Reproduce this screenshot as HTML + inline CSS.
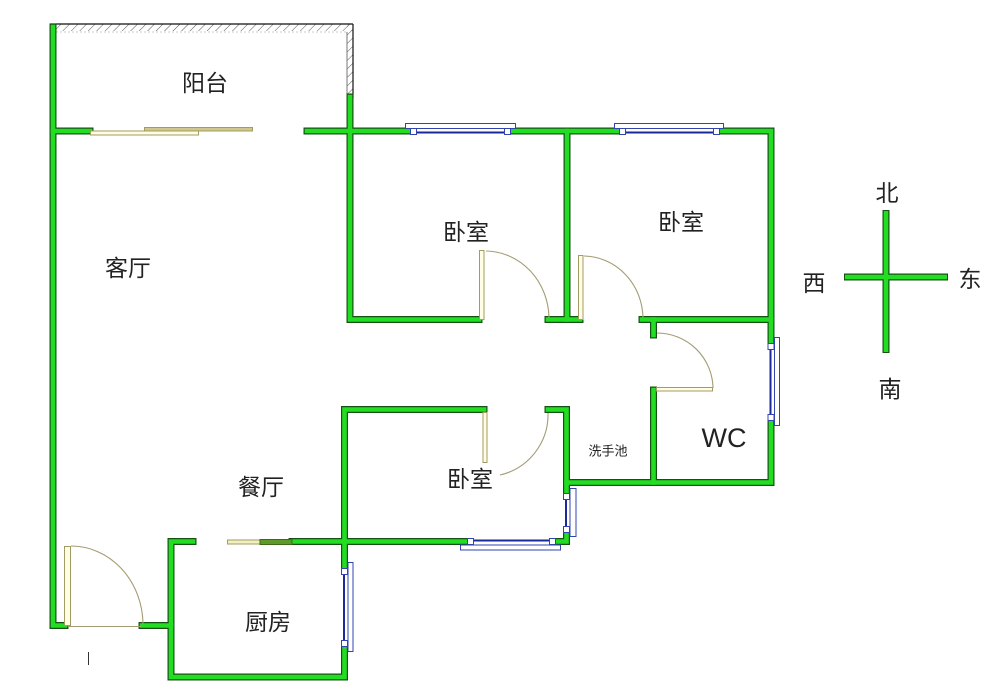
<!DOCTYPE html>
<html><head><meta charset="utf-8"><style>
html,body{margin:0;padding:0;background:#fff;}
svg{display:block;}
text{font-family:"Liberation Sans","Noto Sans CJK SC",sans-serif;fill:#222;}
</style></head><body>
<svg width="1000" height="696" viewBox="0 0 1000 696" xmlns="http://www.w3.org/2000/svg">
<defs>
<pattern id="hatch" width="6" height="6" patternUnits="userSpaceOnUse" patternTransform="rotate(45)">
<line x1="0" y1="0" x2="0" y2="6" stroke="#555" stroke-width="1"/>
</pattern>
</defs>
<rect width="1000" height="696" fill="#fff"/>

<!-- balcony hatch -->
<rect x="50" y="24" width="303" height="7" fill="url(#hatch)"/>
<rect x="347" y="24" width="6" height="74" fill="url(#hatch)"/>
<line x1="50" y1="24" x2="353" y2="24" stroke="#111" stroke-width="1.2"/>
<line x1="353" y1="24" x2="353" y2="98" stroke="#111" stroke-width="1.2"/>
<line x1="56" y1="32" x2="347" y2="32" stroke="#ccc" stroke-width="1" stroke-dasharray="2,2"/>
<line x1="347" y1="32" x2="347" y2="98" stroke="#777" stroke-width="1"/>

<!-- walls -->
<g fill="none" stroke-linecap="square" stroke-linejoin="miter">
<g stroke="#145214" stroke-width="7">
<path d="M53,27 V625.5 H65"/>
<path d="M142,625.5 H171"/>
<path d="M193,541.5 H171 V677 H344.5 V409.5 H484"/>
<path d="M292,541.5 H566.5 V409.5 H548"/>
<path d="M566.5,482.5 H771 V131 H307"/>
<path d="M53,131 H90"/>
<path d="M350,97 V319.5 H479"/>
<path d="M567,131 V319.5"/>
<path d="M548,319.5 H580"/>
<path d="M642,319.5 H771"/>
<path d="M653.5,319.5 V335"/>
<path d="M653.5,390 V482.5"/>
</g>
<g stroke="#22dd22" stroke-width="4.6">
<path d="M53,27 V625.5 H65"/>
<path d="M142,625.5 H171"/>
<path d="M193,541.5 H171 V677 H344.5 V409.5 H484"/>
<path d="M292,541.5 H566.5 V409.5 H548"/>
<path d="M566.5,482.5 H771 V131 H307"/>
<path d="M53,131 H90"/>
<path d="M350,97 V319.5 H479"/>
<path d="M567,131 V319.5"/>
<path d="M548,319.5 H580"/>
<path d="M642,319.5 H771"/>
<path d="M653.5,319.5 V335"/>
<path d="M653.5,390 V482.5"/>
</g>
</g>

<!-- windows -->
<g stroke="#3344b0" stroke-width="1">
<!-- A top bedroom1 -->
<rect x="412" y="127.5" width="98" height="8" fill="#fff" stroke="none"/>
<line x1="412" y1="132.5" x2="510" y2="132.5" stroke="#1a2a9a" stroke-width="2"/>
<rect x="405.5" y="123.5" width="110" height="5" fill="#fff"/>
<rect x="410.5" y="128.5" width="6" height="6" fill="#fff"/>
<rect x="504.5" y="128.5" width="6" height="6" fill="#fff"/>
<!-- B top bedroom2 -->
<rect x="621" y="127.5" width="97" height="8" fill="#fff" stroke="none"/>
<line x1="621" y1="132.5" x2="718" y2="132.5" stroke="#1a2a9a" stroke-width="2"/>
<rect x="614.5" y="123.5" width="109" height="5" fill="#fff"/>
<rect x="619.5" y="128.5" width="6" height="6" fill="#fff"/>
<rect x="713.5" y="128.5" width="6" height="6" fill="#fff"/>
<!-- C bedroom3 bottom -->
<rect x="467" y="537.5" width="88" height="8" fill="#fff" stroke="none"/>
<line x1="467" y1="540.5" x2="555" y2="540.5" stroke="#1a2a9a" stroke-width="2"/>
<rect x="460.5" y="545" width="100" height="5" fill="#fff"/>
<rect x="467.5" y="538.5" width="6" height="6" fill="#fff"/>
<rect x="549.5" y="538.5" width="6" height="6" fill="#fff"/>
<!-- D WC right -->
<rect x="767" y="343" width="8" height="78" fill="#fff" stroke="none"/>
<line x1="770.5" y1="343" x2="770.5" y2="421" stroke="#1a2a9a" stroke-width="2"/>
<rect x="774.5" y="337.5" width="5" height="88" fill="#fff"/>
<rect x="768" y="343.5" width="6" height="6" fill="#fff"/>
<rect x="768" y="414.5" width="6" height="6" fill="#fff"/>
<!-- E bedroom3 right -->
<rect x="562.5" y="494" width="8" height="38" fill="#fff" stroke="none"/>
<line x1="566" y1="494" x2="566" y2="532" stroke="#1a2a9a" stroke-width="2"/>
<rect x="570" y="488.5" width="6" height="48" fill="#fff"/>
<rect x="563.5" y="493.5" width="6" height="6" fill="#fff"/>
<rect x="563.5" y="526.5" width="6" height="6" fill="#fff"/>
<!-- F kitchen right -->
<rect x="340.5" y="568" width="8" height="78" fill="#fff" stroke="none"/>
<line x1="344" y1="568" x2="344" y2="646" stroke="#1a2a9a" stroke-width="2"/>
<rect x="348" y="562.5" width="5" height="89" fill="#fff"/>
<rect x="341.5" y="568.5" width="6" height="6" fill="#fff"/>
<rect x="341.5" y="640.5" width="6" height="6" fill="#fff"/>
</g>

<!-- doors -->
<g stroke="#a39c62" stroke-width="1" fill="#fffde6">
<!-- balcony sliding -->
<rect x="144.5" y="127.5" width="108" height="3.5" fill="#cfc78e"/>
<rect x="90.5" y="131" width="108" height="4" fill="#fffde6"/>
<!-- dining sliding -->
<rect x="227.5" y="540" width="64" height="4" fill="#f2efc0"/>
<rect x="260" y="539.5" width="32" height="5" fill="#5d9a2a" stroke="#3d6a1a"/>
<!-- jambs -->
<rect x="479.5" y="250.5" width="4.5" height="69" />
<rect x="578.5" y="255.5" width="4.5" height="64" />
<rect x="656.5" y="387.5" width="56" height="3.5" />
<rect x="483" y="412.5" width="4" height="50" />
<rect x="64.5" y="546.5" width="6" height="79" />
</g>
<g stroke="#a39c72" stroke-width="1.1" fill="none">
<path d="M486,251 A64,68 0 0 1 549,318"/>
<path d="M584,256 A60,63 0 0 1 643,318"/>
<path d="M657,333 A56,56 0 0 1 713,388"/>
<path d="M548,413 A62,62 0 0 1 500,475"/>
<path d="M71,546 A72,79 0 0 1 143,624"/>
<line x1="68" y1="626.5" x2="142" y2="626.5"/>
</g>
<line x1="88.5" y1="652" x2="88.5" y2="665" stroke="#333" stroke-width="1"/>

<!-- compass -->
<g fill="none" stroke-linecap="butt">
<path d="M886,210 V353 M844,277 H948" stroke="#145214" stroke-width="7"/>
<path d="M886,211 V352 M845,277 H947" stroke="#22dd22" stroke-width="4.6"/>
</g>

<!-- labels -->
<g font-size="23" text-anchor="middle" dominant-baseline="central">
<text x="205" y="83">阳台</text>
<text x="128" y="268">客厅</text>
<text x="466" y="232">卧室</text>
<text x="681" y="222">卧室</text>
<text x="470" y="479">卧室</text>
<text x="261" y="487">餐厅</text>
<text x="268" y="622">厨房</text>
<text x="887" y="193">北</text>
<text x="814" y="283">西</text>
<text x="970" y="279">东</text>
<text x="890" y="389">南</text>
</g>
<text x="724" y="447" font-size="27" text-anchor="middle">WC</text>
<text x="608" y="451" font-size="13" text-anchor="middle" dominant-baseline="central">洗手池</text>
</svg>
</body></html>
